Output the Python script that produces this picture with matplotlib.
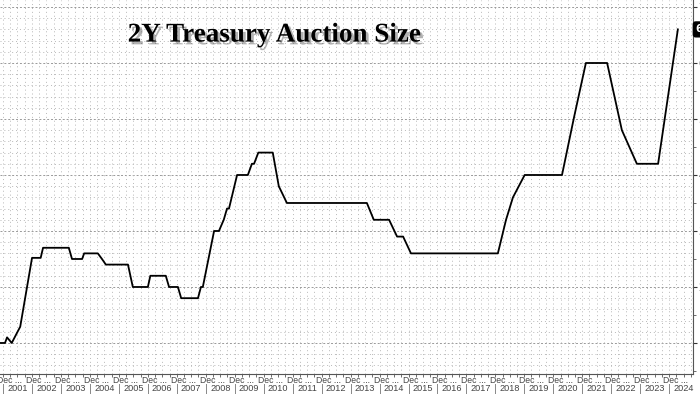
import matplotlib
matplotlib.use("Agg")
import matplotlib.pyplot as plt
import matplotlib.dates as mdates
import matplotlib.patheffects as pe
import matplotlib.transforms as mtransforms
import numpy as np
import pandas as pd

# ── Data (breakpoints, $bn) ────────────────────────────────────────────────
dates = [
    "2000-11-20", "2001-01-25", "2001-02-20", "2001-04-20", "2001-06-25",
    "2001-08-05", "2002-01-01", "2002-04-20", "2002-05-20", "2003-04-10",
    "2003-05-20", "2003-09-25", "2003-10-20", "2004-04-10", "2004-06-01",
    "2004-07-20", "2005-04-25", "2005-06-25", "2006-01-01", "2006-02-01",
    "2006-08-15", "2006-09-25", "2007-01-15", "2007-02-25", "2007-09-25",
    "2007-11-01", "2007-11-25", "2008-04-15", "2008-06-15", "2008-08-15",
    "2008-09-25", "2008-10-20", "2009-01-30", "2009-06-15", "2009-08-05",
    "2009-09-01", "2009-10-25", "2010-04-25", "2010-07-10", "2010-10-20",
    "2013-07-25", "2013-10-20", "2014-05-01", "2014-08-10", "2014-10-25",
    "2015-02-01", "2018-02-01", "2018-05-15", "2018-08-10", "2019-01-05",
    "2020-04-20", "2020-09-20", "2021-02-15", "2021-11-10", "2022-05-15",
    "2022-11-20", "2023-08-15", "2024-04-20",
]
sizes = [
    10, 10, 11, 10, 11.8,
    12.9, 25.2, 25.2, 27, 27,
    25, 25, 26, 26, 25,
    24, 24, 20, 20, 22,
    22, 20, 20, 18, 18,
    20, 20, 30, 30, 32,
    34, 34, 40, 40, 42,
    42, 44, 44, 38, 35,
    35, 32, 32, 29, 29,
    26, 26, 32, 36, 40,
    40, 50.4, 60, 60, 48,
    42, 42, 66,
]
years = list(range(2001, 2025))
dec_years = list(range(2000, 2024))
y_ticks = [10, 20, 30, 40, 50, 60, 70]
title = "2Y Treasury Auction Size"
last_label = "66"

x = pd.to_datetime(dates)

# ── Figure ─────────────────────────────────────────────────────────────────
fig = plt.figure(figsize=(7.0, 3.94), dpi=100)
ax = fig.add_axes([0.0, 20 / 394, 693 / 700, 374 / 394])

x_lo, x_hi = pd.Timestamp("2000-11-23"), pd.Timestamp("2024-10-28")
ax.set_xlim(x_lo, x_hi)
ax.set_ylim(4.46, 71.25)

# grid: dotted every 2, dashed every 10, vertical every quarter
for yv in np.arange(6, 72, 2):
    if yv % 10 == 0:
        ax.axhline(yv, color="#999999", lw=0.7, ls=(0, (2, 2)), zorder=0)
    else:
        ax.axhline(yv, color="#b8b8b8", lw=0.7, ls=(0, (1, 3)), zorder=0)
for d in pd.date_range("2001-01-01", "2024-10-01", freq="QS"):
    ax.axvline(d, color="#b8b8b8", lw=0.7, ls=(0, (1, 3)), zorder=0)

ax.plot(x, sizes, color="black", lw=1.3, zorder=3)

# right-hand axis
ax.yaxis.tick_right()
ax.set_yticks(y_ticks)
ax.set_yticks(np.arange(5, 71, 5), minor=True)
ax.tick_params(axis="y", which="major", length=3, width=0.8, pad=1,
               labelsize=7, colors="#333333")
ax.tick_params(axis="y", which="minor", length=2, width=0.6, colors="#555555")

for s in ["top", "left"]:
    ax.spines[s].set_visible(False)
ax.spines["right"].set_color("#555555")
ax.spines["bottom"].set_color("#555555")

# x-axis: small quarterly ticks, text rows for "Dec ..." and years
ax.xaxis.set_major_locator(mdates.MonthLocator(bymonth=[1, 4, 7, 10]))
ax.xaxis.set_major_formatter(plt.NullFormatter())
ax.tick_params(axis="x", length=2, width=0.6, colors="#555555")

trans = mtransforms.blended_transform_factory(ax.transData, ax.transAxes)
for yr in dec_years:
    ax.text(pd.Timestamp(f"{yr}-10-20"), -0.006, "Dec ...", transform=trans,
            ha="left", va="top", fontsize=6.2, color="#444444",
            family="Liberation Sans", clip_on=False)
for yr in years:
    ax.text(pd.Timestamp(f"{yr}-07-01"), -0.027, str(yr), transform=trans,
            ha="center", va="top", fontsize=6.6, color="#444444",
            family="Liberation Sans", clip_on=False)
    ax.plot([pd.Timestamp(f"{yr}-01-01")] * 2, [-0.027, -0.06],
            transform=trans, color="#888888", lw=0.7, clip_on=False)

# last value tag
ax.annotate(last_label, xy=(1.0, sizes[-1]), xycoords=("axes fraction", "data"),
            xytext=(2, 0), textcoords="offset points", ha="left", va="center",
            fontsize=7, color="white", fontweight="bold",
            bbox=dict(boxstyle="round,pad=0.25", fc="black", ec="black"),
            annotation_clip=False)

# title with drop shadow
fig.text(0.392, 0.911, title, ha="center", va="center",
         fontsize=19.5, fontweight="bold", family="Liberation Serif",
         color="black",
         path_effects=[pe.SimplePatchShadow(offset=(2, -2),
                                            shadow_rgbFace="#555555", alpha=0.45),
                       pe.Normal()])

fig.savefig("out.png", dpi=100)
